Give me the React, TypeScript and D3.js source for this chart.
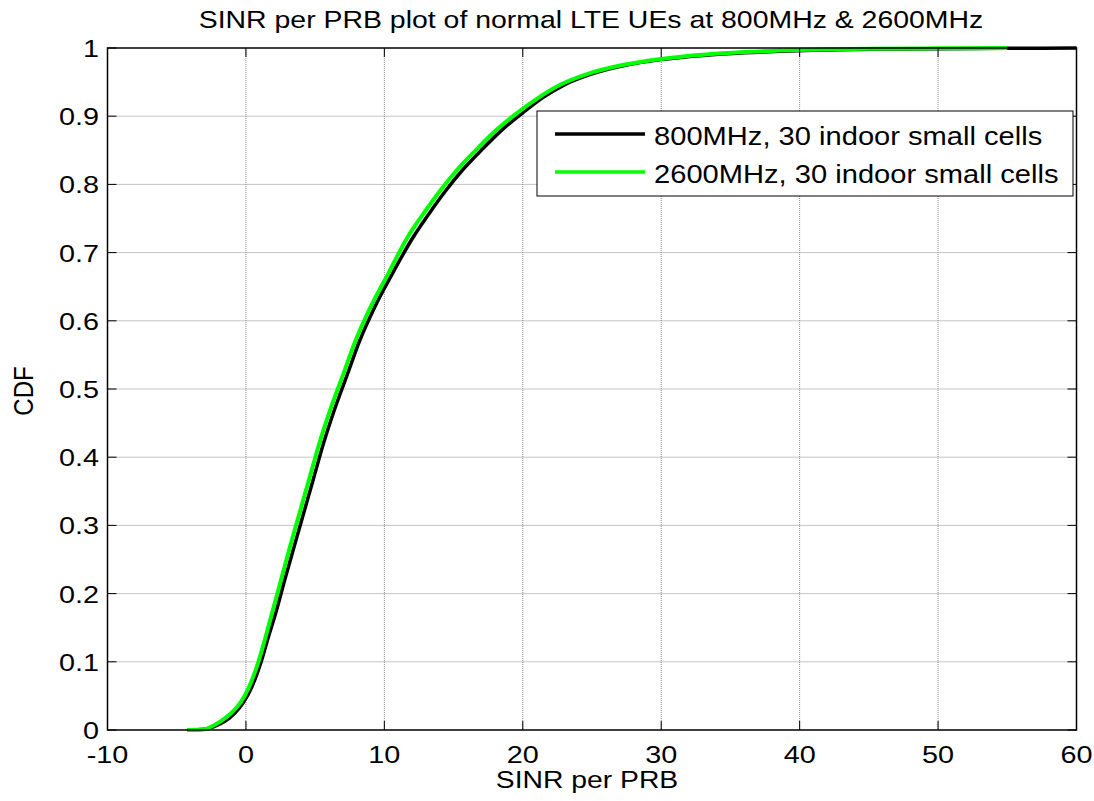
import React from "react";
import * as d3 from "d3";

const xTicks = [-10, 0, 10, 20, 30, 40, 50, 60];
const yTicks = [0, 0.1, 0.2, 0.3, 0.4, 0.5, 0.6, 0.7, 0.8, 0.9, 1];

// 800MHz (black)
const blackX = [-4.2, -3.0, -2.3, -1.5, -0.8, -0.2, 0.4, 1.1, 1.6, 2.2, 2.8, 3.5, 4.2, 4.9, 5.6, 6.4, 7.3, 8.2, 9.3, 10.6, 12.0, 13.5, 14.4, 15.6, 17.0, 18.5, 20.0, 21.5, 23.0, 25.0, 27.5, 30.0, 33.0, 36.0, 40.0, 45.0, 50.0, 55.0, 60.0];
const blackY = [0, 0.001, 0.005, 0.013, 0.025, 0.04, 0.062, 0.1, 0.135, 0.175, 0.22, 0.27, 0.32, 0.37, 0.42, 0.47, 0.52, 0.57, 0.62, 0.67, 0.72, 0.765, 0.79, 0.82, 0.85, 0.88, 0.905, 0.928, 0.946, 0.962, 0.975, 0.983, 0.989, 0.993, 0.996, 0.998, 0.999, 0.9995, 1];

// 2600MHz (green)
const greenX = [-4.25, -3.0, -2.6, -1.8, -1.0, -0.4, 0.2, 0.9, 1.4, 2.0, 2.6, 3.2, 3.9, 4.6, 5.3, 6.1, 7.0, 7.9, 9.0, 10.3, 11.6, 13.1, 14.0, 15.2, 16.6, 18.1, 19.6, 21.2, 22.7, 24.7, 27.2, 30.0, 33.0, 36.0, 40.0, 45.0, 50.0, 55.0];
const greenY = [0, 0.001, 0.004, 0.013, 0.026, 0.04, 0.062, 0.1, 0.135, 0.18, 0.225, 0.27, 0.32, 0.37, 0.42, 0.47, 0.52, 0.57, 0.62, 0.67, 0.72, 0.765, 0.79, 0.82, 0.85, 0.88, 0.905, 0.928, 0.946, 0.962, 0.975, 0.984, 0.99, 0.994, 0.997, 0.999, 0.9995, 1];

const seriesNames = ["800MHz, 30 indoor small cells", "2600MHz, 30 indoor small cells"];
const seriesColors = ["#000000", "#00ff00"];

const W = 1094;
const H = 801;
const left = 107.5;
const right = 1076.5;
const top = 48;
const bottom = 730;

function SText({ x, y, size, sx, anchor, children, rotate }: any) {
  const tr = `translate(${x},${y}) scale(${sx},1)` + (rotate ? ` rotate(${rotate})` : "");
  return (
    <text transform={tr} fontSize={size} textAnchor={anchor || "start"} fill="#000">
      {children}
    </text>
  );
}

export default function App() {
  const x = d3.scaleLinear().domain([-10, 60]).range([left, right]);
  const y = d3.scaleLinear().domain([0, 1]).range([bottom, top]);
  const line = d3
    .line<[number, number]>()
    .x((d) => x(d[0]))
    .y((d) => y(d[1]))
    .curve(d3.curveMonotoneX);
  const blackPts: [number, number][] = blackX.map((v, i) => [v, blackY[i]]);
  const greenPts: [number, number][] = greenX.map((v, i) => [v, greenY[i]]);
  const font = "Liberation Sans, Arial, sans-serif";
  const tl = 9;

  return (
    <svg width={W} height={H} style={{ position: "absolute", left: 0, top: 0, background: "#fff" }} fontFamily={font}>
      <rect x={0} y={0} width={W} height={H} fill="#fff" />
      {/* grid */}
      {xTicks.slice(1, -1).map((t) => (
        <line key={"gx" + t} x1={x(t)} x2={x(t)} y1={top} y2={bottom} stroke="#8a8a8a" strokeWidth={1} strokeDasharray="1,1" />
      ))}
      {yTicks.slice(1, -1).map((t) => (
        <line key={"gy" + t} x1={left} x2={right} y1={y(t)} y2={y(t)} stroke="#8a8a8a" strokeWidth={1} strokeDasharray="1,1" />
      ))}
      {/* curves */}
      <path d={line(blackPts) || ""} fill="none" stroke={seriesColors[0]} strokeWidth={3.5} />
      <path d={line(greenPts) || ""} fill="none" stroke={seriesColors[1]} strokeWidth={4} />
      {/* axes box */}
      <rect x={left} y={top} width={right - left} height={bottom - top} fill="none" stroke="#000" strokeWidth={1.5} />
      {/* ticks */}
      {xTicks.map((t) => (
        <g key={"tx" + t}>
          <line x1={x(t)} x2={x(t)} y1={bottom} y2={bottom - tl} stroke="#000" />
          <line x1={x(t)} x2={x(t)} y1={top} y2={top + tl} stroke="#000" />
          <SText x={x(t)} y={763} size={24} sx={1.2} anchor="middle">{t}</SText>
        </g>
      ))}
      {yTicks.map((t) => (
        <g key={"ty" + t}>
          <line x1={left} x2={left + tl} y1={y(t)} y2={y(t)} stroke="#000" />
          <line x1={right} x2={right - tl} y1={y(t)} y2={y(t)} stroke="#000" />
          <SText x={left - 8.5} y={y(t) + 9} size={24} sx={1.2} anchor="end">{t}</SText>
        </g>
      ))}
      {/* title and labels */}
      <SText x={591} y={28} size={24} sx={1.185} anchor="middle">SINR per PRB plot of normal LTE UEs at 800MHz &amp; 2600MHz</SText>
      <SText x={587} y={788} size={24} sx={1.18} anchor="middle">SINR per PRB</SText>
      <SText x={33} y={391} size={24} sx={1.18} anchor="middle" rotate={-90}>CDF</SText>
      {/* legend */}
      <g>
        <rect x={537} y={111} width={536} height={85} fill="#fff" stroke="#000" strokeWidth={1} />
        {seriesNames.map((n, i) => (
          <g key={n}>
            <line x1={555} x2={645} y1={134 + i * 38} y2={134 + i * 38} stroke={seriesColors[i]} strokeWidth={3.5} />
            <SText x={654} y={145 + i * 38} size={26} sx={1.12}>{n}</SText>
          </g>
        ))}
      </g>
    </svg>
  );
}
